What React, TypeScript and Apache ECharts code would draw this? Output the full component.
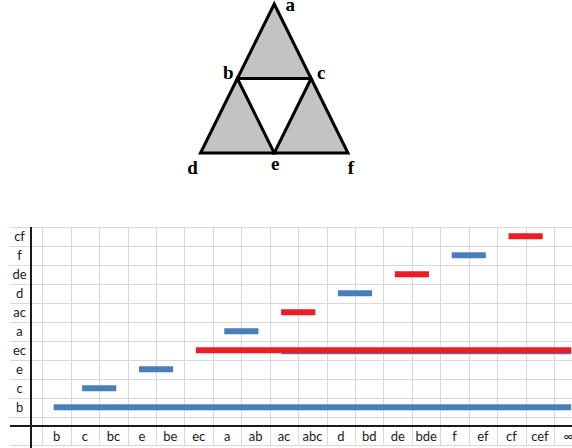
import React, { useEffect, useRef } from "react";
import * as echarts from "echarts";

// ---- barcode sheet data ----
const xLabels = ["b", "c", "bc", "e", "be", "ec", "a", "ab", "ac", "abc", "d", "bd", "de", "bde", "f", "ef", "cf", "cef", "∞"];
const yLabels = ["b", "c", "e", "ec", "a", "ac", "d", "de", "f", "cf"];

// blue bars: row, birth column, death column
const blueRows = ["b", "c", "e", "a", "d", "f"];
const blueBirth = ["b", "c", "e", "a", "d", "f"];
const blueDeath = ["∞", "bc", "be", "ab", "bd", "ef"];

// red bars
const redRows = ["ec", "ac", "de", "cf"];
const redBirth = ["ec", "ac", "de", "cf"];
const redDeath = ["∞", "abc", "bde", "cef"];

// faint blue bar showing under the red "ec" bar
const underRows = ["ec"];
const underBirth = ["ac"];
const underDeath = ["∞"];

// ---- triangle diagram data ----
const vertexNames = ["a", "b", "c", "d", "e", "f"];
const vertexX = [2, 1, 3, 0, 2, 4];
const vertexY = [4, 2, 2, 0, 0, 0];
const shadedTriangles = [
  ["a", "b", "c"],
  ["b", "d", "e"],
  ["c", "e", "f"],
];

// ---- styles / layout ----
const labelOffset: Record<string, [number, number]> = {
  a: [16, 0.5],
  b: [-9, -6],
  c: [10, -6],
  d: [-8, 14],
  e: [1, 10],
  f: [3, 14],
};
const COL_W = 28.43;
const ROW_H = 19;
const SHEET_TOP = 226.7;
const FIRST_COL_X = 42.33;
const BAR_H = 6;
const BLUE = "#4a7ebb";
const RED = "#ed1c24";
const GRID_GRAY = "#d9d9d9";
const LABEL_FONT = "Lato";

const toBars = (rows: string[], births: string[], deaths: string[]) =>
  rows.map((r, i) => [xLabels.indexOf(births[i]), xLabels.indexOf(deaths[i]), yLabels.indexOf(r)]);

const barRenderer = (color: string, dy: number) => (params: any, api: any) => {
  const s = api.coord([api.value(0), api.value(2)]);
  const e = api.coord([api.value(1), api.value(2)]);
  const bw = api.size([1, 1])[0];
  const ext = 0.1 * bw;
  return {
    type: "rect",
    shape: { x: s[0] - ext, y: s[1] - BAR_H / 2 + dy, width: e[0] - s[0] + 2 * ext, height: BAR_H },
    style: { fill: color },
  };
};

const crisp = (v: number) => Math.round(v) + 0.5;

const sheetRenderer = (params: any, api: any) => {
  const c = api.coord([0, 0]);
  const size = api.size([1, 1]);
  const bw = size[0];
  const bh = size[1];
  const left = c[0] - bw / 2;
  const rowsBottom = c[1] + bh / 2;
  const top = rowsBottom - yLabels.length * bh;
  const axisY = rowsBottom + bh / 2;
  const bottom = axisY + bh;
  const sheetLeft = left - 1.14 * bw;
  const spineX = left - 0.4 * bw;
  const W = api.getWidth();
  const H = api.getHeight();
  const children: any[] = [];
  const gray = { stroke: GRID_GRAY, lineWidth: 1 };
  for (let k = 0; k <= xLabels.length; k++) {
    const x = crisp(left + k * bw);
    children.push({ type: "line", shape: { x1: x, y1: top, x2: x, y2: bottom }, style: gray });
  }
  for (let r = 0; r <= yLabels.length; r++) {
    const y = crisp(top + r * bh);
    children.push({ type: "line", shape: { x1: sheetLeft, y1: y, x2: W, y2: y }, style: gray });
  }
  const yb = crisp(bottom);
  children.push({ type: "line", shape: { x1: sheetLeft, y1: yb, x2: W, y2: yb }, style: gray });
  const black = { stroke: "#1a1a1a", lineWidth: 2 };
  const sx = Math.round(spineX);
  const ay = Math.round(axisY);
  children.push({ type: "line", shape: { x1: sx, y1: Math.round(top), x2: sx, y2: H }, style: black });
  children.push({ type: "line", shape: { x1: sheetLeft, y1: ay, x2: W, y2: ay }, style: black });
  return { type: "group", children };
};

export default function App() {
  const ref = useRef<HTMLDivElement>(null);
  useEffect(() => {
    if (!ref.current) return;
    const chart = echarts.init(ref.current, null, { renderer: "svg" });
    const option: any = {
      animation: false,
      backgroundColor: "#ffffff",
      grid: [
        { left: 200.5, top: 4, width: 147.5, height: 149, outerBoundsMode: "none", containLabel: false },
        {
          left: FIRST_COL_X,
          top: SHEET_TOP,
          width: COL_W * xLabels.length,
          height: ROW_H * yLabels.length,
          outerBoundsMode: "none",
          containLabel: false,
        },
      ],
      xAxis: [
        { gridIndex: 0, type: "value", min: 0, max: 4, show: false },
        {
          gridIndex: 1,
          type: "category",
          data: xLabels,
          position: "bottom",
          offset: ROW_H / 2,
          axisLine: { show: false },
          axisTick: { show: false },
          splitLine: { show: false },
          axisLabel: { interval: 0, margin: 3, fontFamily: LABEL_FONT, fontSize: 13, color: "#1a1a1a", hideOverlap: false },
        },
      ],
      yAxis: [
        { gridIndex: 0, type: "value", min: 0, max: 4, show: false },
        {
          gridIndex: 1,
          type: "category",
          data: yLabels,
          axisLine: { show: false },
          axisTick: { show: false },
          splitLine: { show: false },
          axisLabel: { interval: 0, margin: 22.8, align: "center", fontFamily: LABEL_FONT, fontSize: 13, color: "#1a1a1a" },
        },
      ],
      series: [
        {
          type: "custom",
          name: "sheet",
          xAxisIndex: 1,
          yAxisIndex: 1,
          silent: true,
          clip: false,
          z: 1,
          data: [[0, 0]],
          encode: { x: 0, y: 1 },
          renderItem: sheetRenderer,
        },
        {
          type: "custom",
          name: "under",
          xAxisIndex: 1,
          yAxisIndex: 1,
          clip: false,
          z: 2,
          data: toBars(underRows, underBirth, underDeath),
          encode: { x: [0, 1], y: 2 },
          renderItem: barRenderer(BLUE, 1),
        },
        {
          type: "custom",
          name: "blue",
          xAxisIndex: 1,
          yAxisIndex: 1,
          clip: false,
          z: 3,
          data: toBars(blueRows, blueBirth, blueDeath),
          encode: { x: [0, 1], y: 2 },
          renderItem: barRenderer(BLUE, 0),
        },
        {
          type: "custom",
          name: "red",
          xAxisIndex: 1,
          yAxisIndex: 1,
          clip: false,
          z: 4,
          data: toBars(redRows, redBirth, redDeath),
          encode: { x: [0, 1], y: 2 },
          renderItem: barRenderer(RED, 0),
        },
        {
          type: "custom",
          name: "triangles",
          xAxisIndex: 0,
          yAxisIndex: 0,
          clip: false,
          z: 2,
          data: shadedTriangles.map((_, i) => [i]),
          renderItem: (params: any, api: any) => {
            const tri = shadedTriangles[params.dataIndex];
            const points = tri.map((n) => {
              const idx = vertexNames.indexOf(n);
              return api.coord([vertexX[idx], vertexY[idx]]);
            });
            return {
              type: "polygon",
              shape: { points },
              style: { fill: "#c3c3c3", stroke: "#000000", lineWidth: 3, lineJoin: "miter" },
            };
          },
        },
        {
          type: "custom",
          name: "vertexLabels",
          xAxisIndex: 0,
          yAxisIndex: 0,
          clip: false,
          z: 3,
          data: vertexNames.map((_, i) => [vertexX[i], vertexY[i]]),
          renderItem: (params: any, api: any) => {
            const name = vertexNames[params.dataIndex];
            const p = api.coord([api.value(0), api.value(1)]);
            const off = labelOffset[name];
            return {
              type: "text",
              x: p[0] + off[0],
              y: p[1] + off[1],
              style: {
                text: name,
                fill: "#000000",
                fontFamily: "Liberation Serif",
                fontWeight: "bold",
                fontSize: 19,
                lineHeight: 9,
                align: "center",
                verticalAlign: "middle",
              },
            };
          },
        },
      ],
    };
    chart.setOption(option);
    return () => chart.dispose();
  }, []);
  return (
    <div
      ref={ref}
      style={{ position: "fixed", left: 0, top: 0, width: 572, height: 448, background: "#fff" }}
    />
  );
}
